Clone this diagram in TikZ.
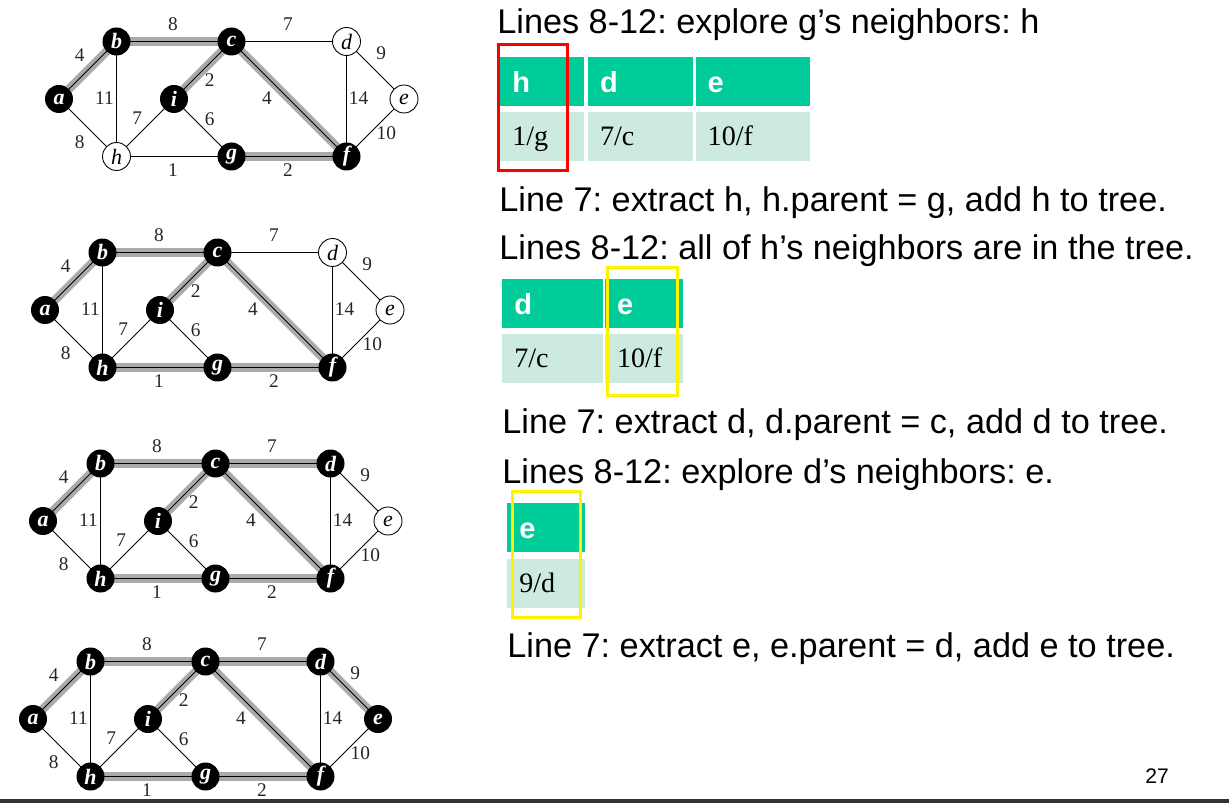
\documentclass[tikz,border=0pt]{standalone}
\usepackage{fontspec}
\setmainfont{Liberation Sans}
\newfontfamily\graphfont{Liberation Serif}
\usetikzlibrary{positioning,calc,backgrounds}
\frenchspacing

\definecolor{hdgreen}{RGB}{0,204,153}
\definecolor{bodygreen}{RGB}{204,234,221}
\definecolor{treegray}{RGB}{170,170,170}
\definecolor{barcol}{RGB}{50,54,58}

% one snapshot of the graph: #1 prefix, #2 place of vertex a,
% #3 vertex/style pairs, #4 tree edges
\newcommand{\primstate}[4]{%
  \begin{scope}[shift={#2},name prefix=#1-]
    \foreach \v/\px/\py in {a/0/0,b/1/-1,c/3/-1,d/5/-1,e/6/0,i/2/0,h/1/1,g/3/1,f/5/1}
      \coordinate (p\v) at (\px*57.5,\py*57.5);
    \foreach \v/\st in {#3}
      \node[\st] (\v) at (p\v) {\v};
    \begin{pgfonlayer}{background}
      \foreach \u/\v in {#4}
        \draw[tree] (\u.center) -- (\v.center);
      \foreach \u/\v/\w/\dx/\dy in {a/b/4/-8/-15,b/c/8/-1/-17,c/d/7/-1/-17,d/e/9/6/-17,
          b/h/11/-12/-1,c/i/2/7/10,c/f/4/-22/-1,d/f/14/12/-1,h/i/7/-8/-10,i/g/6/7/-9,
          a/h/8/-8/14,f/e/10/11/5,h/g/1/-1/14,g/f/2/-1/14}
      {
        \draw[edge] (\u.center) -- (\v.center);
        \node[wt] (w\u\v) at ($(\u)!0.5!(\v)+(\dx,\dy)$) {\w};
      }
    \end{pgfonlayer}
  \end{scope}}

\begin{document}
\begin{tikzpicture}[
    x=0.02cm, y=-0.02cm,
    vin/.style={circle,fill=black,text=white,minimum size=0.56cm,inner sep=0pt,
                font=\graphfont\bfseries\itshape\fontsize{12.5}{12.5}\selectfont},
    vout/.style={circle,draw=black,fill=white,line width=0.5pt,minimum size=0.56cm,inner sep=0pt,
                 font=\graphfont\itshape\fontsize{12.5}{12.5}\selectfont},
    edge/.style={draw=black,line width=0.5pt},
    tree/.style={draw=treegray,line width=0.17cm},
    wt/.style={font=\graphfont\fontsize{11}{11}\selectfont,text=black!85,inner sep=0pt},
    hd/.style={rectangle,fill=hdgreen,text=white,minimum height=0.98cm,inner xsep=0.24cm,
               text height=0.5cm,text depth=0.06cm,inner ysep=0pt,
               align=left,font=\bfseries\fontsize{16.5}{18}\selectfont},
    bd/.style={rectangle,fill=bodygreen,text=black,minimum height=0.98cm,inner xsep=0.24cm,
               text height=0.44cm,text depth=0.1cm,inner ysep=0pt,
               align=left,font=\graphfont\fontsize{16}{18}\selectfont},
    say/.style={anchor=base west,inner sep=0pt,font=\fontsize{19.5}{23}\selectfont},
    redframe/.style={draw=red,line width=0.06cm},
    yelframe/.style={draw=yellow,line width=0.06cm}
]
\useasboundingbox (0,0) rectangle (1229,803);

% the four snapshots
\primstate{s1}{(59,99)}{a/vin,b/vin,c/vin,d/vout,e/vout,i/vin,h/vout,g/vin,f/vin}
  {a/b,b/c,c/i,c/f,g/f}
\primstate{s2}{(45,310)}{a/vin,b/vin,c/vin,d/vout,e/vout,i/vin,h/vin,g/vin,f/vin}
  {a/b,b/c,c/i,c/f,g/f,h/g}
\primstate{s3}{(43,521)}{a/vin,b/vin,c/vin,d/vin,e/vout,i/vin,h/vin,g/vin,f/vin}
  {a/b,b/c,c/i,c/f,g/f,h/g,c/d}
\primstate{s4}{(33,719)}{a/vin,b/vin,c/vin,d/vin,e/vin,i/vin,h/vin,g/vin,f/vin}
  {a/b,b/c,c/i,c/f,g/f,h/g,c/d,d/e}

% text on the right
\node[say] (t0) at (497,34) {Lines 8-12: explore g’s neighbors: h};
\node[say] (t1) at (499,212) {Line 7: extract h, h.parent = g, add h to tree.};
\node[say] (t2) at (499,260) {Lines 8-12: all of h’s neighbors are in the tree.};
\node[say] (t3) at (502,433) {Line 7: extract d, d.parent = c, add d to tree.};
\node[say] (t4) at (502,483) {Lines 8-12: explore d’s neighbors: e.};
\node[say] (t5) at (507,657) {Line 7: extract e, e.parent = d, add e to tree.};

% queue 1
\node[hd,anchor=north west,text width=1.2cm] (q1h1) at (500,57) {h};
\node[hd,right=0.06cm of q1h1,text width=1.62cm] (q1h2) {d};
\node[hd,right=0.04cm of q1h2,text width=1.8cm] (q1h3) {e};
\node[bd,below=0.1cm of q1h1,text width=1.2cm] (q1b1) {1/g};
\node[bd,below=0.1cm of q1h2,text width=1.62cm] (q1b2) {7/c};
\node[bd,below=0.1cm of q1h3,text width=1.8cm] (q1b3) {10/f};
\draw[redframe] (498,45) rectangle (567,171);

% queue 2
\node[hd,anchor=north west,text width=1.54cm] (q2h1) at (502,279) {d};
\node[hd,right=0.02cm of q2h1,text width=1.08cm] (q2h2) {e};
\node[bd,below=0.1cm of q2h1,text width=1.54cm] (q2b1) {7/c};
\node[bd,below=0.1cm of q2h2,text width=1.08cm] (q2b2) {10/f};
\draw[yelframe] (607,268) rectangle (677,395);

% queue 3
\node[hd,anchor=north west,text width=1.08cm] (q3h1) at (507,503) {e};
\node[bd,below=0.12cm of q3h1,text width=1.08cm] (q3b1) {9/d};
\draw[yelframe] (512,491) rectangle (580,617);

% page number and bottom bar
\node[anchor=base west,inner sep=0pt,font=\fontsize{12}{12}\selectfont] (pg) at (1145,783) {27};
\fill[barcol] (0,799) rectangle (1229,803);
\end{tikzpicture}
\end{document}
